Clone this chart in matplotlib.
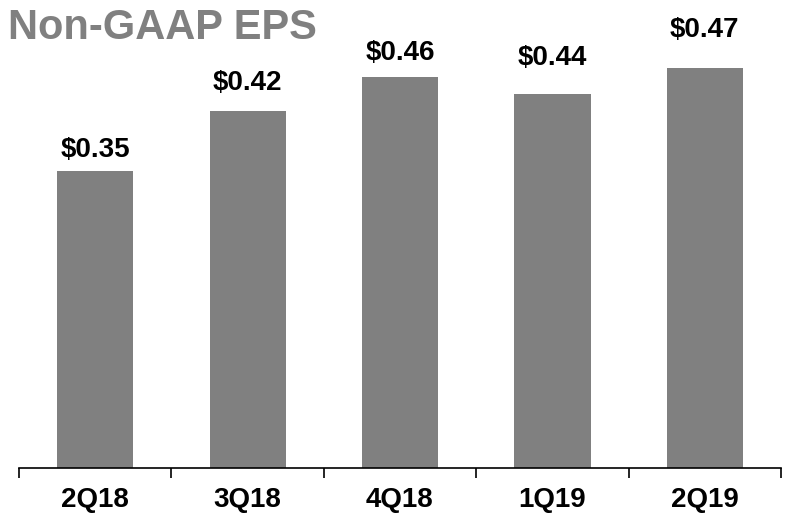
import numpy as np
import matplotlib
matplotlib.use("Agg")
from matplotlib import pyplot as plt

# podaci
kvartali = ["2Q18", "3Q18", "4Q18", "1Q19", "2Q19"]
eps = [0.35, 0.42, 0.46, 0.44, 0.47]
oznake = ["$0.35", "$0.42", "$0.46", "$0.44", "$0.47"]

# razmak oznake iznad stupca (u točkama), kao na originalu
pomaci = [10, 15, 12, 21, 23]

plt.rcParams["font.family"] = ["Liberation Sans", "DejaVu Sans"]

fig = plt.figure(figsize=(7.86, 5.17), dpi=100)
ax = fig.add_axes([19 / 786, 49 / 517, 762 / 786, 468 / 517])

x = np.arange(len(kvartali))
ax.bar(x, eps, width=0.5, color="#808080")

for xi, v, t, p in zip(x, eps, oznake, pomaci):
    ax.annotate(t, (xi, v), xytext=(0, p), textcoords="offset points",
                ha="center", va="baseline", fontsize=20, fontweight="bold")

ax.set_xlim(-0.5, len(kvartali) - 0.5)
ax.set_ylim(0, 468 / 850)

ax.set_xticks(x)
ax.set_xticklabels(kvartali, fontsize=20, fontweight="bold")
ax.tick_params(axis="x", which="major", length=0, pad=14)
ax.set_xticks(np.arange(-0.5, len(kvartali)), minor=True)
ax.tick_params(axis="x", which="minor", length=7, width=1.2, color="black")
ax.set_yticks([])

for s in ["top", "right", "left"]:
    ax.spines[s].set_visible(False)
ax.spines["bottom"].set_linewidth(1.2)

fig.text(0.010, 1 - 39 / 517, "Non-GAAP EPS", fontsize=30, fontweight="bold",
         color="#808080", ha="left", va="baseline")

fig.savefig("out.png", dpi=100)
